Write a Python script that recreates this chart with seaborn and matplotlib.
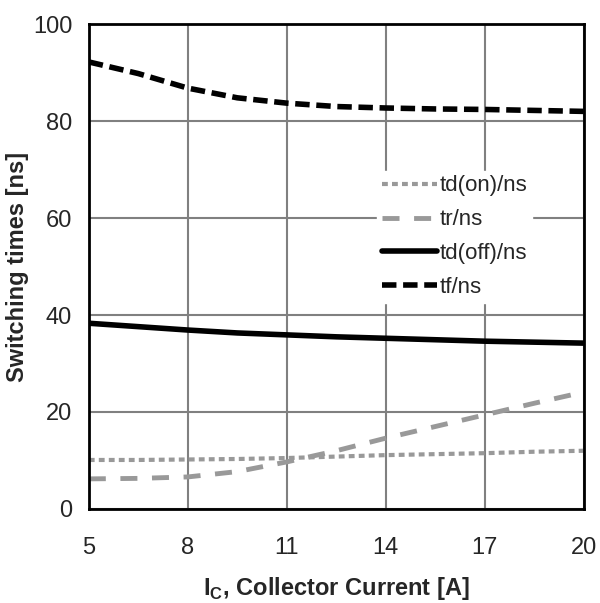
import matplotlib
matplotlib.use("Agg")
import matplotlib.pyplot as plt
import seaborn as sns
import pandas as pd

current = [5, 6.5, 8, 9.5, 11, 12.5, 14, 15.5, 17, 18.5, 20]
td_on = [10.1, 10.1, 10.2, 10.3, 10.5, 10.8, 11.1, 11.3, 11.5, 11.8, 12.0]
tr = [6.2, 6.3, 6.6, 7.7, 9.7, 12.0, 14.6, 17.0, 19.4, 21.8, 24.1]
td_off = [38.3, 37.6, 36.9, 36.3, 35.9, 35.5, 35.2, 34.9, 34.6, 34.4, 34.2]
tf = [92.2, 89.8, 86.8, 84.8, 83.7, 83.0, 82.7, 82.5, 82.4, 82.2, 82.0]
series_names = ["td(on)/ns", "tr/ns", "td(off)/ns", "tf/ns"]
x_ticks = [5, 8, 11, 14, 17, 20]
y_ticks = [0, 20, 40, 60, 80, 100]

sns.set_theme(style="white")
plt.rcParams['font.family'] = ['Liberation Sans', 'DejaVu Sans']

df = pd.DataFrame({"I": current, series_names[0]: td_on, series_names[1]: tr,
                   series_names[2]: td_off, series_names[3]: tf})

fig = plt.figure(figsize=(6, 6.03), dpi=100)
ax = fig.add_axes([0.148, 0.156, 0.825, 0.804])

styles = {
    "td(on)/ns": dict(color="#999999", lw=3.0, ls=(0, (1.4, 1.0))),
    "tr/ns": dict(color="#999999", lw=3.5, ls=(0, (3.5, 3.0))),
    "td(off)/ns": dict(color="black", lw=4.0, ls="-"),
    "tf/ns": dict(color="black", lw=4.0, ls=(0, (2.6, 1.2))),
}
for name in series_names:
    st = styles[name]
    sns.lineplot(data=df, x="I", y=name, ax=ax, color=st["color"], linewidth=st["lw"],
                 linestyle=st["ls"], label=name)

ax.set_xlim(5, 20)
ax.set_ylim(0, 100)
ax.set_xticks(x_ticks)
ax.set_yticks(y_ticks)
ax.grid(True, color="#808080", linewidth=1.5)
ax.set_axisbelow(True)
for s in ax.spines.values():
    s.set_color("black")
    s.set_linewidth(2)
ax.tick_params(axis="both", direction="in", length=6, width=2, color="black",
               labelsize=17, pad=14)
ax.tick_params(axis="x", pad=20)
ax.tick_params(axis="y", pad=12)
ax.set_xlabel(r"I$_\mathregular{C}$, Collector Current [A]", fontsize=17, fontweight="bold", labelpad=12)
ax.set_ylabel("Switching times [ns]", fontsize=17, fontweight="bold", labelpad=3)

leg = ax.legend(loc="upper left", bbox_to_anchor=(0.56, 0.72), frameon=True, fontsize=16,
                handlelength=2.5, handletextpad=0.1, labelspacing=0.58, borderpad=0.2)
leg.get_frame().set_facecolor("white")
leg.get_frame().set_edgecolor("white")
leg.get_frame().set_alpha(1)
leg.get_frame().set_boxstyle("square", pad=0)

fig.savefig("out.png", dpi=100)
